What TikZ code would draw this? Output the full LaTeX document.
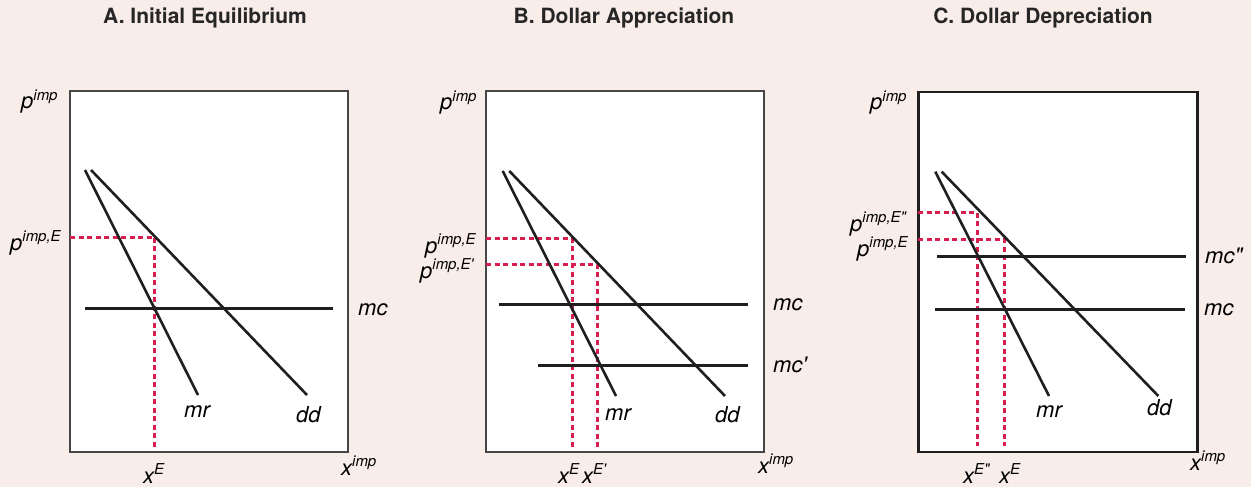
\documentclass[tikz,border=0pt]{standalone}
\usepackage{fontspec}
\setmainfont{TeX Gyre Heros}
\usepackage{tikz}

\definecolor{bgpink}{HTML}{F9EDE9}
\definecolor{crimson}{HTML}{D71E4E}
\newcommand{\lab}[2]{#1\raisebox{9pt}{\fontsize{15}{15}\selectfont #2}}

\begin{document}
\begin{tikzpicture}[x=1pt,y=-1pt,
    curve/.style={line width=2.6pt, black!88},
    guide/.style={crimson, line width=3pt, dash pattern=on 5pt off 3.5pt},
    frame/.style={draw=black!72, line width=1.6pt, fill=white},
    lbl/.style={anchor=base west, inner sep=0pt, font=\fontsize{22}{22}\selectfont\itshape},
    heading/.style={anchor=base, inner sep=0pt, font=\fontsize{21}{22}\selectfont\bfseries, black!85}]
  \fill[bgpink] (0,0) rectangle (1251,487);
  \useasboundingbox (0,0) rectangle (1251,487);

  % Panel A: initial equilibrium
  \node[heading] (titleA) at (205,24) {A. Initial Equilibrium};
  \draw[frame] (70,91) rectangle (348,452);
  \coordinate (EA) at (154.3,237);
  \draw[guide] (70,237) -- (EA) -- (154.3,448);
  \draw[curve] (85,170) -- (198,395);
  \draw[curve] (91,170) -- (307,395);
  \draw[curve] (85,308.6) -- (333,308.6);
  \node[lbl] (pA)   at (21,109)  {\lab{p}{imp}};
  \node[lbl] (pEA)  at (10,250)  {\lab{p}{imp,E}};
  \node[lbl] (mcA)  at (358,315) {mc};
  \node[lbl] (mrA)  at (184,417) {mr};
  \node[lbl] (ddA)  at (296,422) {dd};
  \node[lbl] (xEA)  at (143,483) {\lab{x}{E}};
  \node[lbl] (xA)   at (341,475) {\lab{x}{imp}};

  % Panel B: dollar appreciation, mc falls to mc'
  \node[heading] (titleB) at (624,24) {B. Dollar Appreciation};
  \draw[frame] (486,91) rectangle (764,452);
  \coordinate (EB)  at (572,238.7);
  \coordinate (EB1) at (597.7,264.7);
  \draw[guide] (486,238.7) -- (EB) -- (572,450);
  \draw[guide] (486,264.7) -- (EB1) -- (597.7,450);
  \draw[curve] (502.7,171) -- (616,396);
  \draw[curve] (509.3,171) -- (725,396);
  \draw[curve] (499.3,304.7) -- (748.3,304.7);
  \draw[curve] (538.3,365.3) -- (748.3,365.3);
  \node[lbl] (pB)   at (440,110) {\lab{p}{imp}};
  \node[lbl] (pEB)  at (425,253) {\lab{p}{imp,E}};
  \node[lbl] (pEB1) at (420,278) {\lab{p}{imp,E\textquotesingle}};
  \node[lbl] (mcB)  at (773,310) {mc};
  \node[lbl] (mcB1) at (773,372) {mc\textquotesingle};
  \node[lbl] (mrB)  at (605,420) {mr};
  \node[lbl] (ddB)  at (715,422) {dd};
  \node[lbl] (xEB)  at (558,483) {\lab{x}{E}};
  \node[lbl] (xEB1) at (582,483) {\lab{x}{E\textquotesingle}};
  \node[lbl] (xB)   at (758,473) {\lab{x}{imp}};

  % Panel C: dollar depreciation, mc rises to mc''
  \node[heading] (titleC) at (1043,24) {C. Dollar Depreciation};
  \draw[frame, draw=black!88, line width=2.6pt] (918.3,92) rectangle (1197.7,452);
  \coordinate (EC2) at (977.7,212.7);
  \coordinate (EC)  at (1004.3,239);
  \draw[guide] (918.3,212.7) -- (EC2) -- (977.7,446);
  \draw[guide] (918.3,239) -- (EC) -- (1004.3,446);
  \draw[curve] (935.3,171.7) -- (1049,396);
  \draw[curve] (941.7,171.7) -- (1158.3,396);
  \draw[curve] (937,256.6) -- (1186,256.6);
  \draw[curve] (935.3,309.7) -- (1184.7,309.7);
  \node[lbl] (pC)   at (870,110)  {\lab{p}{imp}};
  \node[lbl] (pEC2) at (850,231)  {\lab{p}{imp,E\textquotedbl}};
  \node[lbl] (pEC)  at (857,256)  {\lab{p}{imp,E}};
  \node[lbl] (mcC2) at (1205,263) {mc\textquotedbl};
  \node[lbl] (mcC)  at (1204,315) {mc};
  \node[lbl] (mrC)  at (1036,417) {mr};
  \node[lbl] (ddC)  at (1147,415) {dd};
  \node[lbl] (xEC2) at (963,483)  {\lab{x}{E\textquotedbl}};
  \node[lbl] (xEC)  at (999,483)  {\lab{x}{E}};
  \node[lbl] (xC)   at (1190,470) {\lab{x}{imp}};
\end{tikzpicture}
\end{document}
